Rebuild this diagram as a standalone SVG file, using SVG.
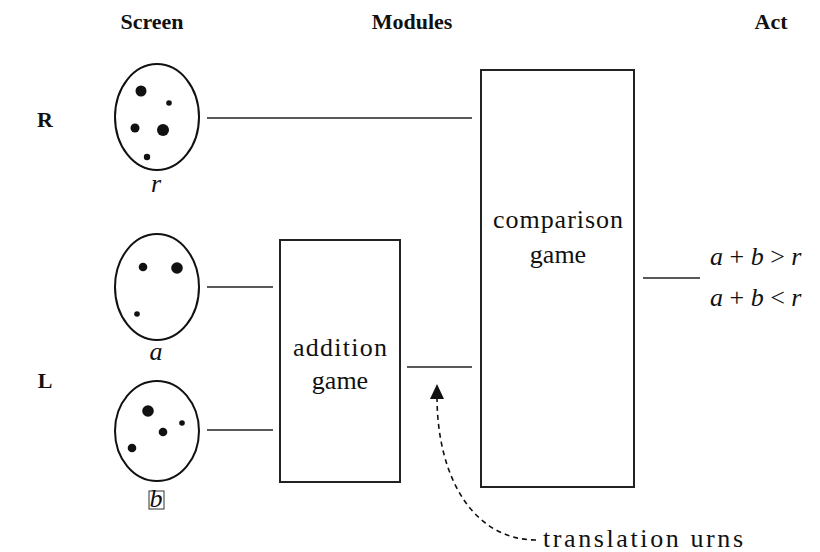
<svg xmlns="http://www.w3.org/2000/svg" width="820" height="552" viewBox="0 0 820 552">
<defs>
<style>
.t{font-family:"Liberation Serif","Times New Roman",serif;fill:#111;}
.h{font-size:22px;font-weight:bold;}
.m{font-size:26px;}
.i{font-size:26px;font-style:italic;}
.box{fill:none;stroke:#222;stroke-width:2;}
.ell{fill:#fff;stroke:#111;stroke-width:2;}
.dot{fill:#111;}
.ln{stroke:#222;stroke-width:1.3;fill:none;}
.dash{stroke:#111;stroke-width:1.6;fill:none;stroke-dasharray:5,4;}
</style>
</defs>
<rect width="820" height="552" fill="#fff"/>

<g id="headers">
<text class="t h" x="152" y="29" text-anchor="middle">Screen</text>
<text class="t h" x="412" y="29" text-anchor="middle">Modules</text>
<text class="t h" x="771" y="29" text-anchor="middle">Act</text>
<text class="t h" x="45" y="127" text-anchor="middle">R</text>
<text class="t h" x="45" y="388" text-anchor="middle">L</text>
</g>

<g id="screen-r">
<ellipse class="ell" cx="157" cy="117" rx="42" ry="53"/>
<circle class="dot" cx="141" cy="91" r="5.5"/>
<circle class="dot" cx="169" cy="103" r="2.8"/>
<circle class="dot" cx="135" cy="128" r="4.5"/>
<circle class="dot" cx="163" cy="130" r="6"/>
<circle class="dot" cx="147" cy="157" r="3.2"/>
<text class="t i" x="156" y="192" text-anchor="middle">r</text>
</g>

<g id="screen-a">
<ellipse class="ell" cx="157" cy="287" rx="42" ry="53"/>
<circle class="dot" cx="143" cy="267" r="4.3"/>
<circle class="dot" cx="177" cy="268" r="5.8"/>
<circle class="dot" cx="137" cy="314" r="2.8"/>
<text class="t i" x="156" y="360" text-anchor="middle">a</text>
</g>

<g id="screen-b">
<ellipse class="ell" cx="157" cy="431" rx="42" ry="50"/>
<circle class="dot" cx="148" cy="411" r="5.8"/>
<circle class="dot" cx="163" cy="432" r="4.3"/>
<circle class="dot" cx="182" cy="423" r="2.8"/>
<circle class="dot" cx="132" cy="448" r="4.3"/>
<rect x="149" y="491" width="15" height="18" fill="none" stroke="#333" stroke-width="1"/>
<text class="t i" x="156" y="507" text-anchor="middle">b</text>
</g>

<g id="addition">
<rect class="box" x="280" y="240" width="120" height="242"/>
<text class="t m" x="340" y="356" text-anchor="middle" textLength="94" lengthAdjust="spacing">addition</text>
<text class="t m" x="340" y="389" text-anchor="middle">game</text>
</g>

<g id="comparison">
<rect class="box" x="481" y="70" width="153" height="417"/>
<text class="t m" x="558" y="228" text-anchor="middle" textLength="130" lengthAdjust="spacing">comparison</text>
<text class="t m" x="558" y="263" text-anchor="middle">game</text>
</g>

<g id="act">
<text class="t i" x="710" y="265">a<tspan font-style="normal"> + </tspan>b<tspan font-style="normal"> &gt; </tspan>r</text>
<text class="t i" x="710" y="306">a<tspan font-style="normal"> + </tspan>b<tspan font-style="normal"> &lt; </tspan>r</text>
</g>

<g id="note">
<text class="t m" x="543" y="547" textLength="200" lengthAdjust="spacing">translation urns</text>
</g>

<g id="connectors">
<line class="ln" x1="207" y1="118" x2="472" y2="118"/>
<line class="ln" x1="207" y1="287" x2="273" y2="287"/>
<line class="ln" x1="207" y1="430" x2="273" y2="430"/>
<line class="ln" x1="407" y1="367" x2="472" y2="367"/>
<line class="ln" x1="643" y1="278" x2="700" y2="278"/>
<path class="dash" d="M536,540 C475,540 437,480 437,396"/>
<path d="M437,384 L430,399 L444,399 Z" fill="#111"/>
</g>
</svg>
